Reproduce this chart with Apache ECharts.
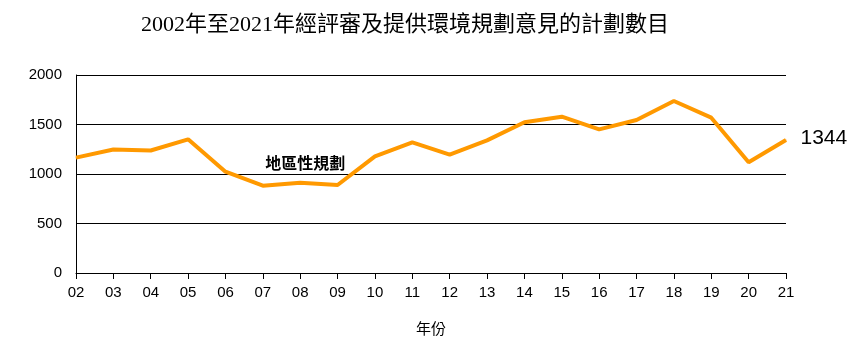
<!DOCTYPE html>
<html><head><meta charset="utf-8">
<script src="https://cdn.jsdelivr.net/npm/echarts@6/dist/echarts.min.js"></script>
<style>html,body{margin:0;padding:0;background:#fff}#c{width:867px;height:357px}</style>
</head><body><div id="c"></div>
<script>
const categories = ['02','03','04','05','06','07','08','09','10','11','12','13','14','15','16','17','18','19','20','21'];
const values = [1165,1247,1237,1350,1023,882,912,889,1178,1320,1195,1340,1522,1579,1451,1545,1737,1569,1118,1344];
const yTicks = [0,500,1000,1500,2000];
const titleText = '2002年至2021年經評審及提供環境規劃意見的計劃數目';
const seriesName = '地區性規劃';
const xName = '年份';

const chart = echarts.init(document.getElementById('c'));
chart.setOption({
  animation: false,
  title: {
    text: titleText, left: 400, top: 9, textAlign: 'center',
    textStyle: {fontFamily: '"Liberation Serif","Noto Sans CJK TC"', fontSize: 22, fontWeight: 'normal', color: '#000'}
  },
  grid: {left: 76, right: 81, top: 75, bottom: 84},
  xAxis: {
    type: 'category', data: categories, boundaryGap: false,
    name: xName, nameLocation: 'middle', nameGap: 48,
    nameTextStyle: {fontFamily: '"Noto Sans CJK TC"', fontSize: 15, color: '#000'},
    axisLine: {lineStyle: {color: '#000', width: 1}},
    axisTick: {show: true, length: 6, lineStyle: {color: '#000'}},
    axisLabel: {fontFamily: 'Liberation Sans, Arial', fontSize: 15, color: '#000', margin: 12},
    splitLine: {show: false}
  },
  yAxis: {
    type: 'value', min: yTicks[0], max: yTicks[yTicks.length-1], interval: 500,
    axisLine: {show: true, lineStyle: {color: '#000', width: 1}},
    axisTick: {show: false},
    axisLabel: {fontFamily: 'Liberation Sans, Arial', fontSize: 15, color: '#000', margin: 14, formatter: v => String(v)},
    splitLine: {lineStyle: {color: '#000', width: 1}}
  },
  series: [{
    name: seriesName, type: 'line',
    data: values.map((v,i)=> i===values.length-1 ? {value:v, label:{show:true}} : v),
    symbol: 'circle', symbolSize: 1, showSymbol: true,
    lineStyle: {color: '#FF9900', width: 4}, itemStyle: {color: '#FF9900'},
    label: {show: false, position: 'right', distance: 14, formatter: '{c}', fontFamily: 'Liberation Sans, Arial', fontSize: 21, color: '#000', offset: [0,-2]},
    markPoint: {
      symbol: 'circle', symbolSize: 1, itemStyle: {color: 'rgba(0,0,0,0)'},
      data: [{coord: ['08', 1110], value: 0}],
      label: {show: true, position: 'inside', offset: [5, 0], formatter: seriesName, fontFamily: '"Noto Sans CJK TC"', fontWeight: 'bold', fontSize: 16, color: '#000'}
    }
  }]
});
</script></body></html>
